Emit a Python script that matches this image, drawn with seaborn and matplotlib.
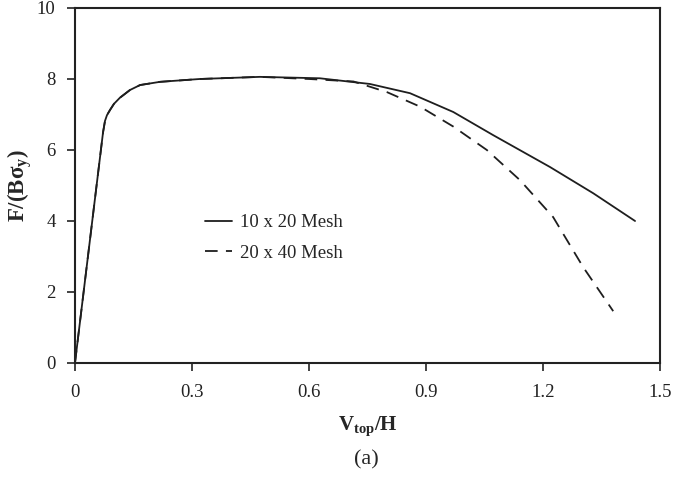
import matplotlib
matplotlib.use("Agg")
import matplotlib.pyplot as plt
import seaborn as sns
import pandas as pd

# Normalised top displacement and normalised load for the two meshes
coarse_x = [0, 0.072, 0.077, 0.082, 0.09, 0.1, 0.115, 0.141, 0.167, 0.218,
            0.32, 0.474, 0.628, 0.756, 0.859, 0.97, 1.072, 1.218, 1.329, 1.436]
coarse_y = [0, 6.5, 6.82, 6.98, 7.13, 7.3, 7.47, 7.69, 7.83, 7.92,
            8.0, 8.06, 8.02, 7.86, 7.6, 7.07, 6.42, 5.52, 4.78, 4.0]

fine_x = [0, 0.072, 0.077, 0.082, 0.09, 0.1, 0.115, 0.141, 0.167, 0.218,
          0.32, 0.474, 0.6, 0.714, 0.8, 0.885, 0.97, 1.056, 1.141, 1.226,
          1.303, 1.38]
fine_y = [0, 6.5, 6.82, 6.98, 7.13, 7.3, 7.47, 7.69, 7.83, 7.92,
          8.0, 8.06, 8.0, 7.93, 7.63, 7.22, 6.66, 6.0, 5.15, 4.11,
          2.7, 1.46]

series_names = ["10 x 20 Mesh", "20 x 40 Mesh"]
x_ticks = [0, 0.3, 0.6, 0.9, 1.2, 1.5]
x_tick_labels = ["0", "0.3", "0.6", "0.9", "1.2", "1.5"]
y_ticks = [0, 2, 4, 6, 8, 10]

df = pd.concat([
    pd.DataFrame({"x": coarse_x, "y": coarse_y, "mesh": series_names[0]}),
    pd.DataFrame({"x": fine_x, "y": fine_y, "mesh": series_names[1]}),
], ignore_index=True)

sns.set_style("ticks")
plt.rcParams["font.family"] = ["Liberation Serif", "DejaVu Serif"]
plt.rcParams["mathtext.fontset"] = "custom"
plt.rcParams["mathtext.rm"] = "Liberation Serif"
plt.rcParams["mathtext.bf"] = "Liberation Serif:bold"
plt.rcParams["mathtext.it"] = "Liberation Serif:italic"

fig = plt.figure(figsize=(6.73, 4.79), dpi=100)
ax = fig.add_axes([0.1114, 0.2422, 0.8693, 0.7411])

ink = "#1e1e1e"
sns.lineplot(data=df, x="x", y="y", hue="mesh", style="mesh",
             palette=[ink, ink],
             dashes={series_names[0]: "", series_names[1]: (7.0, 4.6)},
             sort=False, estimator=None, linewidth=1.3, ax=ax)

ax.set_xlim(0, 1.5)
ax.set_ylim(0, 10)
ax.set_xticks(x_ticks)
ax.set_xticklabels(x_tick_labels)
ax.set_yticks(y_ticks)
ax.tick_params(axis="both", direction="out", length=6, width=1.2,
               labelsize=13.5, colors="#222222", pad=8)
ax.tick_params(axis="x", pad=9)
for side in ["left", "right", "top", "bottom"]:
    ax.spines[side].set_visible(True)
    ax.spines[side].set_color("#222222")
    ax.spines[side].set_linewidth(1.5)

ax.set_xlabel(r"$\mathbf{V_{top}/H}$", fontsize=15, labelpad=10)
ax.set_ylabel(r"$\mathbf{F/(B\sigma_y)}$", fontsize=16.5, labelpad=2)

leg = ax.legend(loc="center left", bbox_to_anchor=(0.209, 0.352),
                frameon=False, borderaxespad=0, fontsize=13.5,
                handlelength=1.45, handletextpad=0.43, labelspacing=0.72)

fig.text(0.544, 0.04, "(a)", ha="center", va="center", fontsize=16)

fig.savefig("out.png", dpi=100)
